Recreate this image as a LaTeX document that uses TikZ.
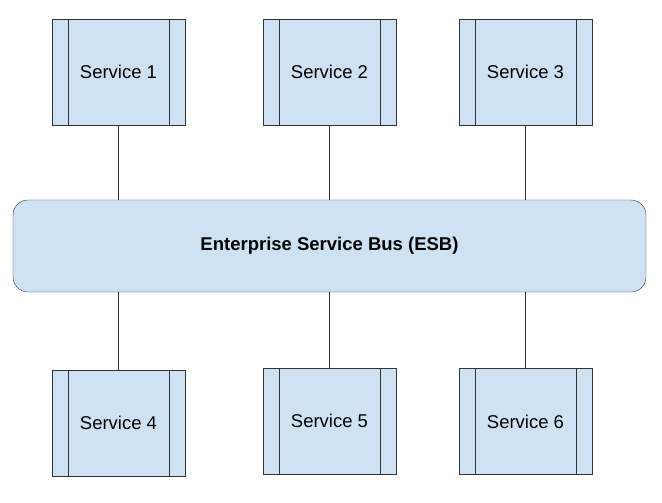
\documentclass[tikz,border=0pt]{standalone}
\usepackage{fontspec}
\setmainfont{Liberation Sans}
\begin{document}
\begin{tikzpicture}[x=1pt,y=-1pt,
  svc/.style={draw=black!80,fill={rgb,255:red,207;green,226;blue,243},minimum width=133pt,minimum height=106pt,inner sep=0pt,font=\fontsize{18.5}{22}\selectfont,
    path picture={\draw[black!80] ([xshift=16pt]path picture bounding box.north west)--([xshift=16pt]path picture bounding box.south west);
    \draw[black!80] ([xshift=-16pt]path picture bounding box.north east)--([xshift=-16pt]path picture bounding box.south east);}},
  bus/.style={draw=black!80,fill={rgb,255:red,207;green,226;blue,243},rounded corners=15pt,minimum width=633pt,minimum height=92pt,font=\bfseries\fontsize{18.5}{22}\selectfont},
  conn/.style={draw=black!80}]
\useasboundingbox (0,0) rectangle (662,503);
\node[svc] (s1) at (118.5,72) {Service 1};
\node[svc] (s2) at (329.5,72) {Service 2};
\node[svc] (s3) at (525.5,72) {Service 3};
\node[bus] (esb) at (329.5,246) {Enterprise Service Bus (ESB)};
\node[svc] (s4) at (118.5,423) {Service 4};
\node[svc] (s5) at (329.5,421) {Service 5};
\node[svc] (s6) at (525.5,421.5) {Service 6};
\foreach \s in {s1,s2,s3}{\draw[conn] (\s.south) -- (\s.south |- esb.north);}
\draw[conn] (s4.north) -- (s4.north |- esb.south);
\draw[conn] (s5.north) -- (s5.north |- esb.south);
\draw[conn] (s6.north) -- (s6.north |- esb.south);
\end{tikzpicture}
\end{document}
